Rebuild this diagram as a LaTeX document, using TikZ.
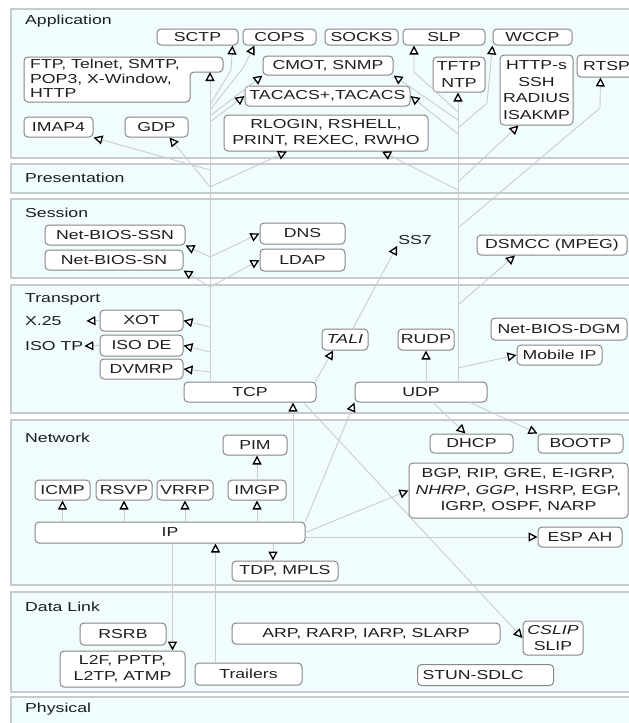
\documentclass[tikz,border=0pt]{standalone}
\usepackage{fontspec}
\setmainfont{Liberation Sans}[FakeStretch=1.36]
\usetikzlibrary{arrows.meta}
\definecolor{panelfill}{RGB}{240,252,253}
\definecolor{panelline}{RGB}{196,204,206}
\definecolor{boxline}{RGB}{135,135,135}
\definecolor{connc}{RGB}{200,206,206}
\definecolor{txt}{RGB}{30,30,30}
\newcommand\dfont{\fontsize{13pt}{16.5pt}\selectfont}
\tikzset{
 panel/.style={fill=panelfill, draw=panelline, line width=1.5pt},
 layerlabel/.style={anchor=west, inner sep=0pt, text=txt, font=\dfont},
 pbox/.style={draw=boxline, fill=white, rounded corners=4pt, line width=1pt, inner sep=1pt, text=txt, align=center, font=\dfont},
 plain/.style={inner sep=1pt, text=txt, font=\dfont},
 conn/.style={draw=connc, line width=0.9pt, -{Triangle[length=9pt,width=9pt,color=black,fill=white,line width=1.3pt]}},
}
\newcommand\pnode[6]{\node[pbox, minimum width={#4-#2}, minimum height={#5-#3}] (#1) at ({(#2+#4)/2},{(#3+#5)/2}) {#6};}
\begin{document}
\begin{tikzpicture}[x=1pt,y=-1pt]
\useasboundingbox (0,0) rectangle (629,723);
\clip (0,0) rectangle (629,723);
\fill[white] (0,0) rectangle (629,723);
% layer panels
\draw[panel] (11,9) rectangle (645,158);
\draw[panel] (11,164) rectangle (645,193);
\draw[panel] (11,199) rectangle (645,278);
\draw[panel] (11,285) rectangle (645,413);
\draw[panel] (11,420) rectangle (645,585);
\draw[panel] (11,592) rectangle (645,692);
\draw[panel] (11,697) rectangle (645,740);
\node[layerlabel] (lapp) at (25,21) {Application};
\node[layerlabel] (lpres) at (25,178) {Presentation};
\node[layerlabel] (lsess) at (25,213) {Session};
\node[layerlabel] (ltrans) at (25,299) {Transport};
\node[layerlabel] (lnet) at (25,438) {Network};
\node[layerlabel] (ldl) at (25,607) {Data Link};
\node[layerlabel] (lphys) at (25,709) {Physical};
% Application
\pnode{sctp}{157}{29}{238}{45}{SCTP}
\pnode{cops}{243}{29}{316}{45}{COPS}
\pnode{socks}{325}{29}{398}{45}{SOCKS}
\pnode{slp}{403}{29}{485}{45}{SLP}
\pnode{wccp}{493}{29}{572}{45}{WCCP}
\draw[draw=boxline, fill=white, rounded corners=4pt, line width=1pt] (24,57) -- (223,57) -- (223,72) -- (190,72) -- (190,102) -- (24,102) -- cycle;
\node[plain, anchor=north west, align=left, font=\fontsize{13pt}{14.5pt}\selectfont] (ftp) at (29,58) {FTP, Telnet, SMTP,\\POP3, X-Window,\\HTTP};
\coordinate (ftpn) at (210,72);
\pnode{cmot}{263}{56}{393}{75}{CMOT, SNMP}
\pnode{tacacs}{245}{86}{410}{106}{TACACS+,TACACS}
\pnode{rlogin}{224}{115}{428}{151}{RLOGIN, RSHELL,\\PRINT, REXEC, RWHO}
\pnode{imap4}{24}{117}{93}{137}{IMAP4}
\pnode{gdp}{125}{117}{188}{137}{GDP}
\pnode{tftp}{433}{57}{485}{92}{TFTP\\NTP}
\pnode{https}{500}{55}{573}{125}{HTTP-s\\SSH\\RADIUS\\ISAKMP}
\pnode{rtsp}{577}{55}{636}{77}{RTSP}
% Session
\pnode{nbssn}{45}{225}{185}{245}{Net-BIOS-SSN}
\pnode{nbsn}{45}{250}{183}{270}{Net-BIOS-SN}
\pnode{dns}{260}{223}{345}{244}{DNS}
\pnode{ldap}{260}{249}{345}{271}{LDAP}
\node[plain] (ss7) at (415,240) {SS7};
\pnode{dsmcc}{477}{235}{627}{255}{DSMCC (MPEG)}
% Transport
\node[plain, anchor=west, text width=60pt, align=left] (x25) at (24,321) {X.25};
\node[plain, anchor=west] (isotp) at (24,346) {ISO TP};
\pnode{xot}{100}{310}{183}{331}{XOT}
\pnode{isode}{100}{335}{183}{356}{ISO DE}
\pnode{dvmrp}{100}{359}{183}{379}{DVMRP}
\pnode{tcp}{184}{382}{316}{402}{TCP}
\pnode{udp}{355}{382}{487}{402}{UDP}
\pnode{tali}{322}{329}{368}{350}{\textit{TALI}}
\pnode{rudp}{398}{329}{454}{350}{RUDP}
\pnode{nbdgm}{491}{318}{627}{340}{Net-BIOS-DGM}
\pnode{mobip}{517}{345}{602}{365}{Mobile IP}
% Network
\pnode{pim}{223}{435}{287}{455}{PIM}
\pnode{icmp}{35}{480}{90}{500}{ICMP}
\pnode{rsvp}{96}{480}{152}{500}{RSVP}
\pnode{vrrp}{157}{480}{213}{500}{VRRP}
\pnode{imgp}{228}{480}{286}{500}{IMGP}
\pnode{ip}{35}{522}{305}{543}{IP}
\pnode{tdp}{232}{561}{338}{581}{TDP, MPLS}
\pnode{dhcp}{430}{434}{513}{453}{DHCP}
\pnode{bootp}{538}{434}{623}{453}{BOOTP}
\pnode{bgp}{409}{463}{628}{518}{BGP, RIP, GRE, E-IGRP,\\\textit{NHRP}, \textit{GGP}, HSRP, EGP,\\IGRP, OSPF, NARP}
\pnode{espah}{538}{527}{622}{547}{ESP AH}
% Data Link
\pnode{rsrb}{80}{623}{166}{645}{RSRB}
\pnode{l2f}{60}{651}{185}{687}{L2F, PPTP,\\L2TP, ATMP}
\pnode{trailers}{195}{663}{302}{685}{Trailers}
\pnode{arp}{232}{623}{500}{644}{ARP, RARP, IARP, SLARP}
\pnode{cslip}{523}{621}{583}{655}{\textit{CSLIP}\\SLIP}
\node[pbox, anchor=north west, text width=126pt, align=left, minimum height=21pt, inner xsep=5pt] (stun) at (417,664) {STUN-SDLC};
% TCP bus
\coordinate (tA) at (210,105);
\coordinate (tB) at (210,110);
\coordinate (tC) at (210,116);
\coordinate (tD) at (210,122);
\coordinate (tE) at (210,170);
\coordinate (tF) at (210,187);
\coordinate (tG) at (210,257);
\coordinate (tH) at (210,287);
\coordinate (tI) at (210,327);
\coordinate (tJ) at (210,352);
\coordinate (tK) at (210,372);
\coordinate (tbot) at (210,382);
\draw[conn] (tbot) -- (ftpn);
\draw[conn] (tA) -- (231,70) -- ([xshift=35pt]sctp.south);
\draw[conn] (tB) -- (243,68) -- ([xshift=12pt]cops.south west);
\draw[conn] (tC) -- (cmot.south west);
\draw[conn] (tD) -- (tacacs.west);
\draw[conn] (tE) -- (imap4.south east);
\draw[conn] (tF) -- ([xshift=13pt]gdp.south);
\draw[conn] (tF) -- ([xshift=-39pt]rlogin.south);
\draw[conn] (tG) -- (nbssn.south east);
\draw[conn] (tG) -- (dns.west);
\draw[conn] (tH) -- (nbsn.south east);
\draw[conn] (tH) -- (ldap.west);
\draw[conn] (tI) -- (xot.east);
\draw[conn] (tJ) -- (isode.east);
\draw[conn] (tK) -- (dvmrp.east);
\draw[conn] (xot.west) -- (x25.east);
\draw[conn] (isode.west) -- (isotp.east);
% UDP bus
\coordinate (uA) at (458,112);
\coordinate (uB) at (458,120);
\coordinate (uC) at (458,128);
\coordinate (uD) at (458,134);
\coordinate (uE) at (458,182);
\coordinate (uF) at (458,190);
\coordinate (uG) at (458,228);
\coordinate (uH) at (458,305);
\coordinate (uI) at (458,368);
\coordinate (ubot) at (458,382);
\draw[conn] (ubot) -- (tftp.south -| ubot);
\draw[conn] (uA) -- (414,72) -- ([xshift=-30pt]slp.south);
\draw[conn] (uC) -- (487,103) -- (wccp.south west);
\draw[conn] (uB) -- (cmot.south east);
\draw[conn] (uD) -- (tacacs.east);
\draw[conn] (uE) -- ([xshift=-18pt]https.south);
\draw[conn] (uF) -- ([xshift=56pt]rlogin.south);
\draw[conn] (uG) -- (600,108) -- ([xshift=-6pt]rtsp.south);
\draw[conn] (uH) -- ([xshift=-37pt]dsmcc.south);
\draw[conn] (uI) -- (mobip.west);
\draw[conn] (udp.north -| rudp.south) -- (rudp.south);
\draw[conn] ([xshift=-1pt]tcp.north east) -- ([xshift=-12pt]tali.south);
\draw[conn] ([xshift=8pt]tali.north) -- (ss7.south west);
% Network
\draw[conn] (ip.north -| icmp.south) -- (icmp.south);
\draw[conn] (ip.north -| rsvp.south) -- (rsvp.south);
\draw[conn] (ip.north -| vrrp.south) -- (vrrp.south);
\draw[conn] (ip.north -| imgp.south) -- (imgp.south);
\draw[conn] (imgp.north) -- (imgp.north |- pim.south);
\coordinate (tcpin) at ([xshift=43pt]tcp.south);
\draw[conn] (tcpin |- ip.north) -- (tcpin);
\draw[conn] (ip.north east) -- (udp.south west);
\draw[conn] ([xshift=-13pt]tcp.south east) -- (cslip.west);
\draw[conn] ([xshift=12pt]udp.south) -- ([xshift=-6pt]dhcp.north);
\draw[conn] ([xshift=49pt]udp.south) -- (bootp.north west);
\draw[conn] (ip.east) -- (bgp.west);
\draw[conn] (ip.east |- espah.west) -- (espah.west);
\coordinate (tdpin) at ([xshift=-12pt]tdp.north);
\draw[conn] (tdpin |- ip.south) -- (tdpin);
\coordinate (trin) at ([xshift=-33pt]trailers.north);
\draw[conn] (trin) -- (trin |- ip.south);
\coordinate (l2fin) at ([xshift=50pt]l2f.north);
\draw[conn] (l2fin |- ip.south) -- (l2fin);
\end{tikzpicture}
\end{document}
